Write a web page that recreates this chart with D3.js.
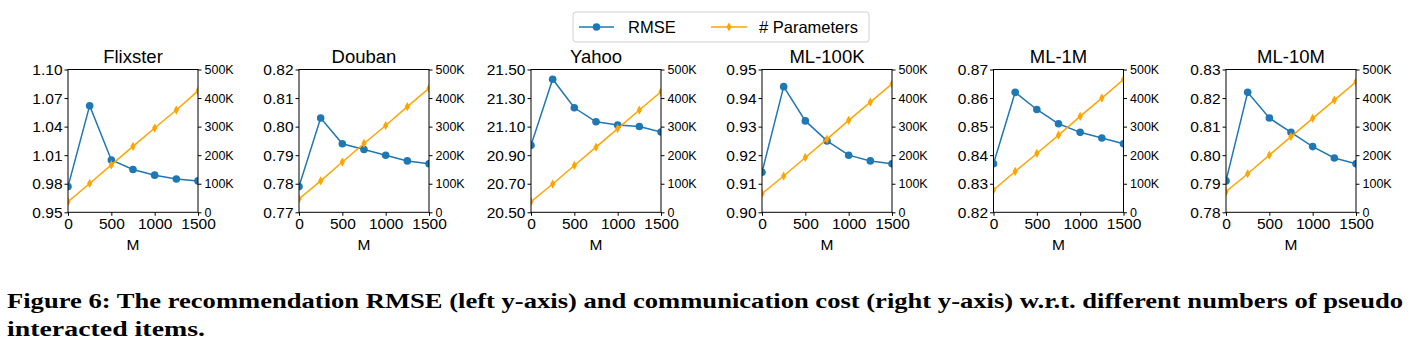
<!DOCTYPE html>
<html>
<head>
<meta charset="utf-8">
<script src="https://cdn.jsdelivr.net/npm/d3@7"></script>
<style>
  body { margin: 0; background: #fff; }
  svg { display: block; }
  .tick text { fill: #000; }
</style>
</head>
<body>
<div id="chart"></div>
<script>
// pseudo interacted items M
var mValues = [0, 250, 500, 750, 1000, 1250, 1500]
var xTicks = [0, 500, 1000, 1500]

var datasetNames = ["Flixster", "Douban", "Yahoo", "ML-100K", "ML-1M", "ML-10M"]

// RMSE (left axis)
var rmseFlixster = [0.977, 1.062, 1.005, 0.995, 0.989, 0.985, 0.983]
var rmseDouban   = [0.779, 0.803, 0.794, 0.792, 0.790, 0.788, 0.787]
var rmseYahoo    = [20.969, 21.432, 21.232, 21.134, 21.111, 21.101, 21.062]
var rmseML100K   = [0.914, 0.944, 0.932, 0.925, 0.920, 0.918, 0.917]
var rmseML1M     = [0.837, 0.862, 0.856, 0.851, 0.848, 0.846, 0.844]
var rmseML10M    = [0.791, 0.822, 0.813, 0.808, 0.803, 0.799, 0.797]

// # Parameters in thousands (right axis)
var paramsFlixster = [37, 101, 166, 231, 295, 358, 425]
var paramsDouban   = [47, 110, 176, 241, 304, 370, 434]
var paramsYahoo    = [37, 99, 164, 228, 293, 358, 422]
var paramsML100K   = [65, 127, 192, 256, 322, 386, 450]
var paramsML1M     = [78, 143, 206, 270, 336, 400, 465]
var paramsML10M    = [72, 135, 200, 265, 329, 393, 457]

// left tick values
var ticksFlixster = [0.95, 0.98, 1.01, 1.04, 1.07, 1.10]
var ticksDouban   = [0.77, 0.78, 0.79, 0.80, 0.81, 0.82]
var ticksYahoo    = [20.50, 20.70, 20.90, 21.10, 21.30, 21.50]
var ticksML100K   = [0.90, 0.91, 0.92, 0.93, 0.94, 0.95]
var ticksML1M     = [0.82, 0.83, 0.84, 0.85, 0.86, 0.87]
var ticksML10M    = [0.78, 0.79, 0.80, 0.81, 0.82, 0.83]

var rightTicks = [0, 100, 200, 300, 400, 500]

var rmseAll = [rmseFlixster, rmseDouban, rmseYahoo, rmseML100K, rmseML1M, rmseML10M]
var paramsAll = [paramsFlixster, paramsDouban, paramsYahoo, paramsML100K, paramsML1M, paramsML10M]
var ticksAll = [ticksFlixster, ticksDouban, ticksYahoo, ticksML100K, ticksML1M, ticksML10M]

var blue = "#1f77b4"
var orange = "#ffa500"
var font = "'Liberation Sans', Arial, sans-serif"

var W = 1415, H = 352
var svg = d3.select("#chart").append("svg")
    .attr("width", W)
    .attr("height", H)

// layout of the six panels
var panelX = [68, 299, 531, 762, 993.5, 1226]
var panelW = 130
var plotTop = 69.5, plotH = 142.8

var diamond = "M0,-4.6L2.6,0L0,4.6L-2.6,0Z"

datasetNames.forEach(function (name, i) {
    var g = svg.append("g")
        .attr("transform", "translate(" + panelX[i] + "," + plotTop + ")")

    var lt = ticksAll[i]
    var x = d3.scaleLinear().domain([0, 1500]).range([0, panelW])
    var yL = d3.scaleLinear().domain([lt[0], lt[lt.length - 1]]).range([plotH, 0])
    var yR = d3.scaleLinear().domain([0, 500]).range([plotH, 0])

    var clipId = "clip" + i
    g.append("clipPath").attr("id", clipId)
        .append("rect").attr("width", panelW).attr("height", plotH)

    var rows = mValues.map(function (m, k) {
        return { m: m, rmse: rmseAll[i][k], p: paramsAll[i][k] }
    })

    // RMSE line
    var lg = g.append("g").attr("clip-path", "url(#" + clipId + ")")
    lg.append("path")
        .datum(rows)
        .attr("fill", "none")
        .attr("stroke", blue)
        .attr("stroke-width", 1.5)
        .attr("d", d3.line().x(d => x(d.m)).y(d => yL(d.rmse)))
    lg.selectAll("circle")
        .data(rows)
        .join("circle")
        .attr("cx", d => x(d.m))
        .attr("cy", d => yL(d.rmse))
        .attr("r", 3.8)
        .attr("fill", blue)

    // parameters line
    lg.append("path")
        .datum(rows)
        .attr("fill", "none")
        .attr("stroke", orange)
        .attr("stroke-width", 1.5)
        .attr("d", d3.line().x(d => x(d.m)).y(d => yR(d.p)))
    lg.selectAll(".dm")
        .data(rows)
        .join("path")
        .attr("class", "dm")
        .attr("transform", d => "translate(" + x(d.m) + "," + yR(d.p) + ")")
        .attr("d", diamond)
        .attr("fill", orange)

    // axes
    var fmtL = d3.format(".2f")
    var xAxis = g.append("g")
        .attr("transform", "translate(0," + plotH + ")")
        .call(d3.axisBottom(x).tickValues(xTicks).tickFormat(d3.format("d"))
            .tickSizeOuter(0).tickSize(3.5).tickPadding(2))
    xAxis.selectAll("text").style("font-size", "15.5px").style("font-family", font)

    var leftAxis = g.append("g")
        .call(d3.axisLeft(yL).tickValues(lt).tickFormat(fmtL).tickSizeOuter(0).tickSize(3.5).tickPadding(2))
    leftAxis.selectAll("text").style("font-size", "15.5px").style("font-family", font)

    var rightAxis = g.append("g")
        .attr("transform", "translate(" + panelW + ",0)")
        .call(d3.axisRight(yR).tickValues(rightTicks)
            .tickFormat(d => d === 0 ? "0" : d + "K").tickSizeOuter(0).tickSize(3.5).tickPadding(3))
    rightAxis.selectAll("text").style("font-size", "12.5px").style("font-family", font)

    g.selectAll(".domain").remove()
    g.selectAll(".tick line").attr("stroke", "#000").attr("stroke-width", 1)

    // frame
    g.append("rect")
        .attr("width", panelW)
        .attr("height", plotH)
        .attr("fill", "none")
        .attr("stroke", "#000")
        .attr("stroke-width", 1)

    // title
    g.append("text")
        .attr("x", panelW / 2)
        .attr("y", -7)
        .attr("text-anchor", "middle")
        .style("font-family", font)
        .style("font-size", "18.5px")
        .text(name)

    // x label
    g.append("text")
        .attr("x", panelW / 2)
        .attr("y", plotH + 38)
        .attr("text-anchor", "middle")
        .style("font-family", font)
        .style("font-size", "15.5px")
        .text("M")
})

// legend
var leg = svg.append("g")
leg.append("rect")
    .attr("x", 573).attr("y", 12)
    .attr("width", 296).attr("height", 30)
    .attr("rx", 3)
    .attr("fill", "#fff")
    .attr("stroke", "#d0d0d0")
    .attr("stroke-width", 1)
leg.append("line")
    .attr("x1", 579).attr("x2", 614).attr("y1", 27).attr("y2", 27)
    .attr("stroke", blue).attr("stroke-width", 1.5)
leg.append("circle").attr("cx", 596.5).attr("cy", 27).attr("r", 3.8).attr("fill", blue)
leg.append("text").attr("x", 628).attr("y", 33)
    .style("font-family", font).style("font-size", "16.5px").text("RMSE")
leg.append("line")
    .attr("x1", 711).attr("x2", 747).attr("y1", 27).attr("y2", 27)
    .attr("stroke", orange).attr("stroke-width", 1.5)
leg.append("path").attr("transform", "translate(729,27)").attr("d", diamond).attr("fill", orange)
leg.append("text").attr("x", 759).attr("y", 33)
    .style("font-family", font).style("font-size", "16.5px").text("# Parameters")

// caption
var capFont = "'Liberation Serif', 'DejaVu Serif', serif"
svg.append("text")
    .attr("x", 7).attr("y", 308)
    .attr("textLength", 1396)
    .attr("lengthAdjust", "spacingAndGlyphs")
    .style("font-family", capFont).style("font-size", "21px").style("font-weight", "bold")
    .text("Figure 6: The recommendation RMSE (left y-axis) and communication cost (right y-axis) w.r.t. different numbers of pseudo")
svg.append("text")
    .attr("x", 7).attr("y", 336)
    .attr("textLength", 198)
    .attr("lengthAdjust", "spacingAndGlyphs")
    .style("font-family", capFont).style("font-size", "21px").style("font-weight", "bold")
    .text("interacted items.")
</script>
</body>
</html>
